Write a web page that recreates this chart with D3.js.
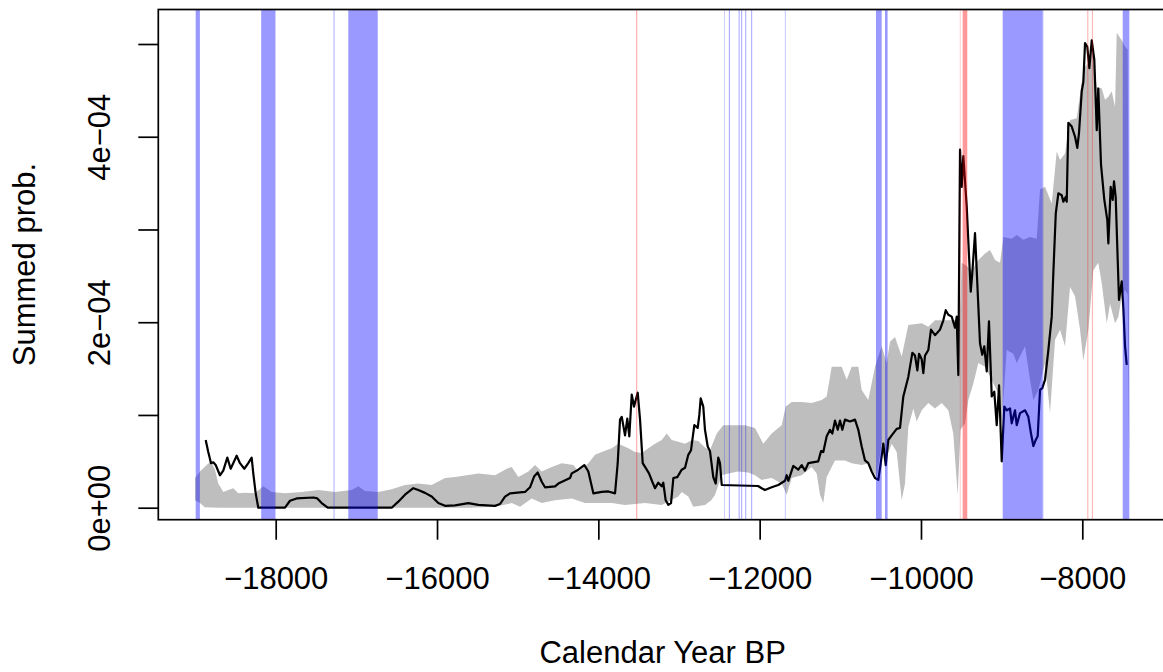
<!DOCTYPE html>
<html>
<head>
<meta charset="utf-8">
<script src="https://cdn.jsdelivr.net/npm/d3@7"></script>
<style>
  html, body { margin: 0; padding: 0; background: #fff; }
  svg { display: block; }
  text { font-family: "Liberation Sans", Arial, Helvetica, sans-serif; fill: #000; }
</style>
</head>
<body>
<svg id="chart" width="1163" height="672"></svg>
<script>
// Summed probability values are stored in units of 1e-4.

// Observed summed probability distribution
const obsYear = [-18868,-18836,-18802,-18774,-18744,-18691,-18650,-18600,-18558,-18484,-18443,-18389,-18340,-18298,-18278,-18248,-18216,-17885,-17823,-17740,-17534,-17484,-17430,-17355,-16562,-16480,-16397,-16294,-16232,-16149,-16066,-15984,-15901,-15777,-15612,-15488,-15281,-15219,-15157,-15095,-15033,-14909,-14847,-14794,-14752,-14702,-14661,-14537,-14496,-14351,-14330,-14248,-14174,-14124,-14062,-13958,-13876,-13793,-13760,-13731,-13710,-13669,-13641,-13616,-13586,-13558,-13537,-13512,-13483,-13450,-13400,-13372,-13331,-13297,-13257,-13214,-13195,-13165,-13132,-13099,-13070,-13021,-12966,-12925,-12885,-12851,-12810,-12768,-12748,-12731,-12699,-12678,-12644,-12616,-12575,-12545,-12513,-12492,-12470,-12020,-11975,-11934,-11851,-11769,-11686,-11665,-11645,-11583,-11521,-11479,-11438,-11397,-11273,-11239,-11211,-11169,-11128,-11099,-11066,-11032,-11004,-10975,-10942,-10880,-10818,-10777,-10735,-10694,-10653,-10611,-10570,-10529,-10499,-10467,-10437,-10405,-10363,-10301,-10260,-10219,-10157,-10107,-10074,-10045,-10024,-9991,-9971,-9950,-9909,-9876,-9826,-9764,-9723,-9693,-9661,-9619,-9578,-9557,-9537,-9516,-9495,-9475,-9433,-9404,-9383,-9364,-9330,-9309,-9268,-9240,-9215,-9185,-9157,-9123,-9091,-9061,-9032,-8999,-8967,-8937,-8896,-8875,-8834,-8813,-8772,-8710,-8669,-8636,-8607,-8578,-8553,-8524,-8496,-8462,-8421,-8379,-8359,-8329,-8297,-8255,-8235,-8206,-8193,-8173,-8131,-8090,-8062,-8041,-8007,-7987,-7966,-7938,-7913,-7883,-7851,-7821,-7802,-7768,-7727,-7690,-7677,-7648,-7623,-7607,-7586,-7561,-7545,-7511,-7491,-7470,-7449];
const obsProb = [0.73,0.60,0.48,0.49,0.46,0.35,0.40,0.54,0.42,0.56,0.48,0.42,0.48,0.54,0.37,0.155,0.0,0.0,0.075,0.10,0.11,0.10,0.05,0.0,0.0,0.065,0.14,0.21,0.19,0.16,0.12,0.05,0.02,0.025,0.05,0.03,0.02,0.04,0.12,0.155,0.16,0.17,0.22,0.34,0.38,0.28,0.22,0.23,0.26,0.32,0.37,0.41,0.46,0.39,0.155,0.17,0.175,0.155,0.48,0.95,0.98,0.78,0.96,0.77,1.22,1.09,1.16,1.24,0.95,0.48,0.41,0.37,0.28,0.21,0.27,0.23,0.27,0.08,0.03,0.05,0.32,0.33,0.41,0.43,0.57,0.62,0.89,0.86,1.0,1.18,1.09,0.84,0.66,0.61,0.33,0.26,0.54,0.48,0.245,0.234,0.21,0.19,0.22,0.245,0.29,0.35,0.29,0.45,0.41,0.46,0.40,0.48,0.50,0.61,0.60,0.77,0.84,0.80,0.94,0.84,0.94,0.84,0.95,0.93,0.95,0.84,0.66,0.51,0.48,0.39,0.32,0.30,0.48,0.69,0.46,0.73,0.78,0.85,0.86,1.20,1.41,1.67,1.64,1.48,1.66,1.60,1.45,1.64,1.70,1.92,1.86,1.92,2.02,2.13,2.08,2.06,1.94,2.06,1.43,3.86,3.46,3.79,3.25,2.71,2.33,2.53,2.96,2.56,1.77,1.65,1.74,1.47,2.01,1.20,1.25,0.89,1.32,0.50,1.09,1.05,1.07,0.91,1.05,0.89,1.02,1.05,0.98,0.80,0.665,0.73,0.77,1.27,1.29,1.38,1.70,2.06,2.53,3.17,3.39,3.37,3.30,3.35,3.30,4.15,4.11,4.0,3.88,4.04,4.49,4.59,5.01,4.97,4.74,5.04,4.83,4.07,4.52,3.70,3.32,3.10,2.85,3.46,3.32,3.52,3.35,2.67,2.24,2.44,2.15,1.74,1.54];

// Upper bound of the simulation envelope
const hiYear = [-19000,-18939,-18855,-18802,-18753,-18712,-18650,-18588,-18526,-18464,-18381,-18257,-18154,-18050,-17885,-17678,-17472,-17265,-17058,-16976,-16893,-16728,-16562,-16397,-16232,-16066,-15901,-15777,-15488,-15281,-15136,-15074,-14992,-14868,-14785,-14702,-14578,-14454,-14310,-14248,-14124,-14041,-13958,-13834,-13752,-13628,-13545,-13462,-13380,-13297,-13214,-13152,-13090,-13009,-12925,-12842,-12761,-12678,-12616,-12532,-12451,-12306,-12182,-12058,-11955,-11851,-11727,-11677,-11603,-11479,-11355,-11231,-11169,-11107,-10983,-10921,-10859,-10777,-10735,-10653,-10570,-10487,-10425,-10384,-10322,-10239,-10157,-9991,-9909,-9826,-9702,-9578,-9520,-9495,-9454,-9371,-9289,-9206,-9144,-9082,-9020,-8979,-8875,-8813,-8731,-8648,-8565,-8524,-8462,-8379,-8317,-8276,-8214,-8152,-8069,-8007,-7966,-7925,-7880,-7821,-7759,-7718,-7677,-7635,-7594,-7573,-7511,-7470,-7437,-7417];
const hiProb = [0.32,0.39,0.46,0.50,0.41,0.26,0.17,0.19,0.21,0.155,0.16,0.155,0.23,0.17,0.155,0.17,0.19,0.17,0.19,0.23,0.18,0.17,0.20,0.245,0.26,0.245,0.32,0.33,0.37,0.35,0.42,0.44,0.33,0.39,0.46,0.39,0.44,0.48,0.46,0.39,0.48,0.57,0.60,0.64,0.69,0.64,0.60,0.59,0.64,0.69,0.73,0.80,0.73,0.71,0.69,0.73,0.72,0.65,0.62,0.80,0.89,0.89,0.89,0.86,0.69,0.80,0.89,1.09,1.14,1.14,1.13,1.16,1.20,1.52,1.52,1.38,1.52,1.52,1.27,1.16,1.52,1.74,1.56,1.79,1.84,1.63,1.97,1.99,1.95,2.02,2.02,2.02,2.06,2.64,2.62,2.56,2.67,2.74,2.78,2.67,2.64,2.92,2.90,2.94,2.89,2.92,2.90,3.43,3.46,3.28,3.84,3.75,3.82,4.18,4.20,4.59,4.75,4.80,4.95,4.54,4.52,4.40,4.43,4.49,4.32,5.12,5.04,4.97,4.94,0.98];

// Lower bound of the simulation envelope
const loYear = [-19000,-18939,-18880,-18700,-16000,-15600,-15281,-15074,-14971,-14826,-14702,-14537,-14330,-14165,-14041,-13834,-13669,-13421,-13214,-13009,-12966,-12885,-12823,-12678,-12600,-12553,-12470,-12389,-12265,-12141,-12058,-11975,-11851,-11727,-11665,-11603,-11479,-11355,-11293,-11252,-11211,-11169,-11066,-10942,-10859,-10735,-10653,-10549,-10487,-10425,-10363,-10301,-10239,-10198,-10157,-10095,-10053,-9991,-9909,-9826,-9743,-9661,-9600,-9545,-9510,-9454,-9413,-9351,-9289,-9206,-9123,-9041,-8999,-8937,-8855,-8813,-8710,-8648,-8607,-8545,-8462,-8400,-8338,-8276,-8214,-8152,-8090,-8028,-7987,-7925,-7863,-7802,-7759,-7697,-7656,-7594,-7553,-7511,-7470,-7437,-7417];
const loProb = [0.08,0.05,0.005,0.0,0.0,0.0,0.01,0.05,0.01,0.10,0.05,0.08,0.10,0.05,0.05,0.05,0.03,0.05,0.03,0.12,0.17,0.12,0.01,0.03,0.08,0.14,0.35,0.37,0.39,0.38,0.35,0.30,0.32,0.26,0.14,0.32,0.35,0.44,0.37,0.14,0.05,0.33,0.51,0.51,0.48,0.46,0.48,0.33,0.69,0.55,0.69,0.60,0.08,0.26,0.87,1.07,0.93,1.05,1.13,1.07,1.13,1.05,0.80,0.14,0.84,0.91,1.16,1.34,1.56,1.52,1.38,1.23,0.91,1.70,1.66,1.56,1.74,1.38,1.16,1.27,1.56,1.02,1.81,1.92,1.74,2.38,2.28,1.92,1.59,1.92,2.56,2.64,2.42,1.99,2.20,1.99,2.06,2.28,2.35,2.30,0.27];

// Years where the observed curve leaves the envelope [start, end]
const belowBands = [[-18992,-18940],[-18180,-18003],[-17282,-17272],[-17100,-16735],[-12441,-12435],[-12382,-12370],[-12260,-12249],[-12228,-12217],[-12178,-12167],[-12104,-12093],[-11687,-11680],[-10558,-10487],[-10446,-10414],[-8987,-8496],[-8494,-8484],[-7499,-7417]];
const aboveBands = [[-13530,-13518],[-9518,-9512],[-9483,-9426],[-7936,-7926],[-7881,-7871]];

// Axis ticks and labels
const xTicks = [-18000,-16000,-14000,-12000,-10000,-8000];
const yTicks = [0,1,2,3,4,5];
const yTickLabels = ["0e+00","","2e\u221204","","4e\u221204",""];
const xTitle = "Calendar Year BP";
const yTitle = "Summed prob.";

const svg = d3.select("#chart");
const plot = { left: 158.3, right: 1167, top: 9.5, bottom: 519.7 };

const x = d3.scaleLinear().domain([-18000, -8000]).range([275.7, 1082.3]);
const y = d3.scaleLinear().domain([0, 5]).range([507.7, 44]);

const FONT = 31;

// simulation envelope as a closed polygon
const hiPts = hiYear.map((yr, i) => [yr, hiProb[i]]);
const loPts = loYear.map((yr, i) => [yr, loProb[i]]).reverse();
const envLine = d3.line().x(d => x(d[0])).y(d => y(d[1]));
svg.append("path")
  .attr("d", envLine(hiPts.concat(loPts)) + "Z")
  .attr("fill", "#bebebe")
  .attr("stroke", "none");

// observed SPD
const obsPts = obsYear.map((yr, i) => [yr, obsProb[i]]);
svg.append("path")
  .attr("d", envLine(obsPts))
  .attr("fill", "none")
  .attr("stroke", "#000")
  .attr("stroke-width", 2.2)
  .attr("stroke-linejoin", "round");

// deviation bands
function bands(data, colour) {
  svg.append("g").selectAll("rect").data(data).join("rect")
    .attr("x", d => x(d[0]))
    .attr("width", d => x(d[1]) - x(d[0]))
    .attr("y", plot.top)
    .attr("height", plot.bottom - plot.top)
    .attr("fill", colour);
}
bands(belowBands, "rgba(0,0,255,0.4)");
bands(aboveBands, "rgba(255,0,0,0.4)");

// frame
svg.append("rect")
  .attr("x", plot.left).attr("y", plot.top)
  .attr("width", plot.right - plot.left).attr("height", plot.bottom - plot.top)
  .attr("fill", "none").attr("stroke", "#000").attr("stroke-width", 1.7);

// x axis
const xAxis = svg.append("g")
  .attr("transform", `translate(0,${plot.bottom})`)
  .call(d3.axisBottom(x).tickValues(xTicks).tickSize(20).tickFormat(d3.format("d")));
xAxis.select(".domain").remove();
xAxis.selectAll(".tick line").attr("stroke", "#000").attr("stroke-width", 1.7);
xAxis.selectAll(".tick text")
  .attr("y", 589 - plot.bottom).attr("dy", 0)
  .attr("font-size", FONT)
  .attr("font-family", "'Liberation Sans', Arial, sans-serif");

// y axis
const yAxis = svg.append("g")
  .attr("transform", `translate(${plot.left},0)`)
  .call(d3.axisLeft(y).tickValues(yTicks).tickSize(20).tickFormat((d, i) => yTickLabels[i]));
yAxis.select(".domain").remove();
yAxis.selectAll(".tick line").attr("stroke", "#000").attr("stroke-width", 1.7);
yAxis.selectAll(".tick text")
  .attr("transform", "rotate(-90)")
  .attr("x", 0).attr("y", 110 - plot.left).attr("dy", 0)
  .attr("text-anchor", "middle")
  .attr("font-size", FONT)
  .attr("font-family", "'Liberation Sans', Arial, sans-serif");

// axis titles
svg.append("text")
  .attr("x", (plot.left + plot.right) / 2).attr("y", 663)
  .attr("text-anchor", "middle").attr("font-size", FONT)
  .text(xTitle);
svg.append("text")
  .attr("transform", `translate(35,${(plot.top + plot.bottom) / 2}) rotate(-90)`)
  .attr("text-anchor", "middle").attr("font-size", FONT)
  .text(yTitle);
</script>
</body>
</html>
